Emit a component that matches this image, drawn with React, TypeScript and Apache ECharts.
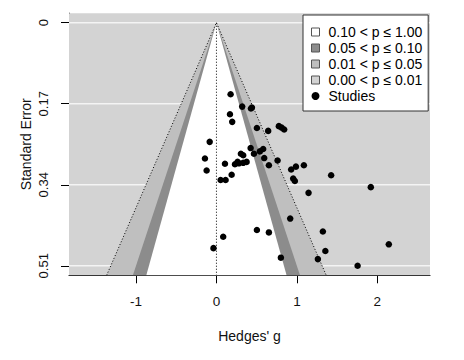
import React, { useEffect, useRef } from "react";
import * as echarts from "echarts";

// Study effect sizes (Hedges' g) and their standard errors
const hedgesG = [0.176, 0.320, 0.429, 0.441, 0.168, 0.196, 0.503, 0.643, 0.776, 0.810, 0.842, -0.084, 0.425, 0.581, 0.540, 0.466, 0.304, 0.333, -0.143, 0.594, 0.760, 0.106, 0.230, 0.263, 0.333, 0.375, 0.280, 0.652, -0.122, 0.189, 0.929, 0.988, 1.087, 0.052, 0.114, 0.954, 0.975, 1.426, 1.919, 1.145, 0.917, 0.503, 0.652, 0.084, 1.323, -0.037, 1.354, 0.801, 1.261, 1.755, 2.143];
const stdErr = [0.150, 0.176, 0.180, 0.178, 0.192, 0.208, 0.221, 0.227, 0.217, 0.220, 0.224, 0.250, 0.263, 0.265, 0.270, 0.275, 0.275, 0.278, 0.285, 0.284, 0.289, 0.296, 0.297, 0.292, 0.294, 0.292, 0.295, 0.299, 0.310, 0.319, 0.308, 0.302, 0.299, 0.330, 0.330, 0.327, 0.332, 0.320, 0.345, 0.357, 0.411, 0.435, 0.440, 0.449, 0.438, 0.473, 0.479, 0.493, 0.496, 0.510, 0.465];

// Axis ticks
const xTicks = [-1, 0, 1, 2];
const xTickLabels = ["-1", "0", "1", "2"];
const yTicks = [0, 0.17, 0.34, 0.51];
const yTickLabels = ["0", "0.17", "0.34", "0.51"];

// Contour regions (two-sided critical z values) and legend labels
const regionNames = ["0.10 < p \u2264 1.00", "0.05 < p \u2264 0.10", "0.01 < p \u2264 0.05", "0.00 < p \u2264 0.01"];
const regionZ = [1.6449, 1.96, 2.5758];
const regionColors = ["#ffffff", "#8c8c8c", "#bfbfbf", "#d3d3d3"];
const studiesName = "Studies";

const X_MIN = -1.833;
const X_MAX = 2.655;
const Y_MIN = -0.02;
const Y_MAX = 0.53;
const FONT = "'Liberation Sans', Arial, Helvetica, sans-serif";

function fmt(ticks: number[], labels: string[]) {
  return (v: number) => {
    const i = ticks.findIndex((t) => Math.abs(t - v) < 1e-9);
    return i >= 0 ? labels[i] : "";
  };
}

export default function App() {
  const ref = useRef<HTMLDivElement>(null);

  useEffect(() => {
    if (!ref.current) return;
    const chart = echarts.init(ref.current, undefined, { renderer: "svg" });

    const regionSeries = [2, 1, 0].map((k) => ({
      type: "custom",
      name: regionNames[k],
      coordinateSystem: "cartesian2d",
      clip: true,
      silent: true,
      z: 2,
      data: [[regionZ[k], 0]],
      renderItem: (params: any, api: any) => {
        const z = api.value(0);
        const pts = [
          api.coord([-z * Y_MAX, Y_MAX]),
          api.coord([0, 0]),
          api.coord([z * Y_MAX, Y_MAX]),
        ];
        return { type: "polygon", shape: { points: pts }, style: { fill: regionColors[k], stroke: null } };
      },
    }));

    const option: any = {
      animation: false,
      grid: { left: 69, top: 13.2, width: 361, height: 262.1, containLabel: false },
      xAxis: {
        type: "value",
        min: X_MIN,
        max: X_MAX,
        name: "Hedges' g",
        nameLocation: "middle",
        nameGap: 54,
        nameTextStyle: { fontSize: 14, color: "#111", fontFamily: FONT },
        axisLine: { show: true, onZero: false, lineStyle: { color: "#000", width: 1 } },
        axisTick: { show: true, length: 8, customValues: xTicks, lineStyle: { color: "#000" } },
        axisLabel: { customValues: xTicks, formatter: fmt(xTicks, xTickLabels), margin: 19, fontSize: 13.5, color: "#111", fontFamily: FONT },
        splitLine: { show: false },
      },
      yAxis: {
        type: "value",
        inverse: true,
        min: Y_MIN,
        max: Y_MAX,
        name: "Standard Error",
        nameLocation: "middle",
        nameGap: 36,
        nameMoveOverlap: false,
        nameTextStyle: { fontSize: 14, color: "#111", fontFamily: FONT },
        axisLine: { show: true, onZero: false, lineStyle: { color: "#000", width: 1 } },
        axisTick: { show: true, length: 8, customValues: yTicks, lineStyle: { color: "#000" } },
        axisLabel: { customValues: yTicks, formatter: fmt(yTicks, yTickLabels), rotate: 90, margin: 19, fontSize: 13, color: "#111", fontFamily: FONT },
        splitLine: { show: false },
      },
      legend: {
        orient: "vertical",
        left: 303,
        top: 15,
        padding: [10, 6, 8, 8],
        itemGap: 2,
        itemWidth: 8,
        itemHeight: 8,
        backgroundColor: "#ffffff",
        borderColor: "#333",
        borderWidth: 1,
        borderRadius: 0,
        selectedMode: false,
        formatter: (name: string) => "{t|" + name + "}",
        textStyle: {
          fontSize: 14,
          color: "#000",
          fontFamily: FONT,
          rich: { t: { fontSize: 14, lineHeight: 14, padding: [0, 0, 0, 4], fontFamily: FONT, color: "#000" } },
        },
        data: [
          ...regionNames.map((n, i) => ({ name: n, icon: "rect", itemStyle: { color: regionColors[i], borderColor: "#555", borderWidth: 1 } })),
          { name: studiesName, icon: "circle", itemStyle: { color: "#000", borderWidth: 0 } },
        ],
      },
      series: [
        {
          type: "custom",
          name: regionNames[3],
          coordinateSystem: "cartesian2d",
          silent: true,
          z: 1,
          data: [[0, 0]],
          renderItem: (params: any) => {
            const cs = params.coordSys;
            return { type: "rect", shape: { x: cs.x, y: cs.y, width: cs.width, height: cs.height }, style: { fill: regionColors[3] } };
          },
        },
        {
          type: "custom",
          name: "gridlines",
          coordinateSystem: "cartesian2d",
          silent: true,
          z: 1,
          data: yTicks.map((v) => [0, v]),
          renderItem: (params: any, api: any) => {
            const cs = params.coordSys;
            const y = api.coord([0, api.value(1)])[1];
            return { type: "line", shape: { x1: cs.x, y1: y, x2: cs.x + cs.width, y2: y }, style: { stroke: "#f4f4f4", lineWidth: 1.6 } };
          },
        },
        ...regionSeries,
        {
          type: "custom",
          name: "reflines",
          coordinateSystem: "cartesian2d",
          silent: true,
          clip: true,
          z: 3,
          data: [[regionZ[2], 0]],
          renderItem: (params: any, api: any) => {
            const z = api.value(0);
            return {
              type: "group",
              children: [
                {
                  type: "polyline",
                  shape: { points: [api.coord([-z * Y_MAX, Y_MAX]), api.coord([0, 0]), api.coord([z * Y_MAX, Y_MAX])] },
                  style: { stroke: "#000", fill: null, lineWidth: 1, lineDash: [1, 2] },
                },
                {
                  type: "line",
                  shape: { x1: api.coord([0, 0])[0], y1: api.coord([0, 0])[1], x2: api.coord([0, Y_MAX])[0], y2: api.coord([0, Y_MAX])[1] },
                  style: { stroke: "#000", lineWidth: 1, lineDash: [1, 2] },
                },
              ],
            };
          },
        },
        {
          type: "scatter",
          name: studiesName,
          z: 4,
          symbol: "circle",
          symbolSize: 6.5,
          itemStyle: { color: "#000", opacity: 1 },
          data: hedgesG.map((g, i) => [g, stdErr[i]]),
        },
      ],
    };

    chart.setOption(option);
    return () => chart.dispose();
  }, []);

  return <div ref={ref} style={{ position: "absolute", left: 0, top: 0, width: 464, height: 360 }} />;
}
